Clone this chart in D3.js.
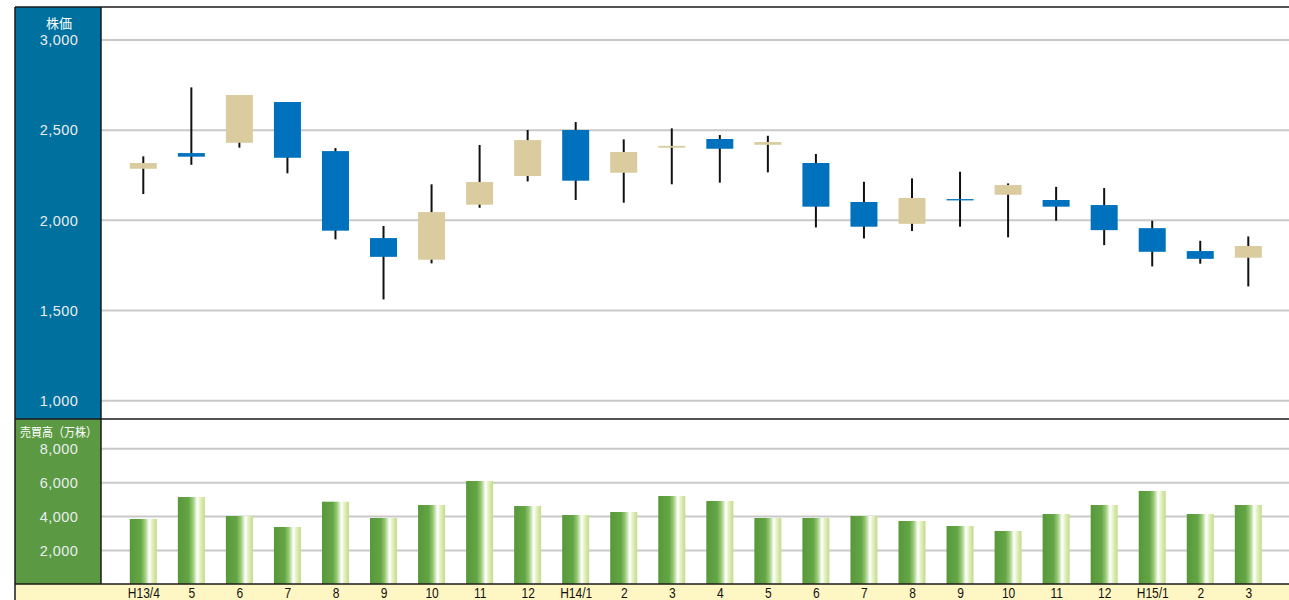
<!DOCTYPE html>
<html>
<head>
<meta charset="utf-8">
<script src="https://cdn.jsdelivr.net/npm/d3@7"></script>
<style>
  html, body { margin: 0; padding: 0; background: #ffffff; }
  svg { display: block; }
  text { font-family: "Liberation Sans", Arial, sans-serif; }
</style>
</head>
<body>
<svg id="chart" width="1289" height="600"></svg>
<script>
// Monthly stock price (OHLC) and trading volume, H13/4 – H15/3
const months = ["H13/4","5","6","7","8","9","10","11","12","H14/1","2","3",
                "4","5","6","7","8","9","10","11","12","H15/1","2","3"];
const openP  = [2283,2370,2427,2653,2381,1899,1779,2084,2243,2498,2261,2400,
                2448,2416,2315,2099,1978,2115,2139,2110,2082,1954,1827,1790];
const highP  = [2352,2734,2692,2653,2398,1966,2197,2415,2498,2542,2446,2507,
                2470,2466,2365,2211,2230,2267,2202,2183,2176,1995,1884,1908];
const lowP   = [2143,2305,2400,2258,1892,1559,1759,2067,2213,2110,2095,2197,
                2206,2263,1958,1897,1938,1962,1903,1995,1860,1742,1757,1631];
const closeP = [2315,2350,2692,2344,1940,1795,2043,2210,2442,2217,2376,2410,
                2394,2431,2073,1962,2121,2113,2193,2073,1943,1823,1784,1855];
const volume = [3829,5127,4006,3357,4850,3888,4655,6071,4596,4065,4242,5186,
                4891,3888,3888,4006,3711,3416,3121,4124,4655,5481,4124,4655];
const priceTicks  = [1000,1500,2000,2500,3000];
const volumeTicks = [2000,4000,6000,8000];
const priceTitle  = "株価";
const volumeTitle = "売買高（万株）";

const svg = d3.select("#chart");
const W = 1289;
const frameL = 15, panelR = 101, frameTop = 7, split = 419, frameBottom = 584;

const x = d3.scalePoint().domain(d3.range(months.length)).range([143.3, 1248.3]);
const yP = d3.scaleLinear().domain([1000, 3000]).range([400.3, 39.4]);
const yV = d3.scaleLinear().domain([0, 8000]).range([583.9, 448.3]);
const bodyW = 27;

// gradient for the volume bars
const defs = svg.append("defs");
const g = defs.append("linearGradient").attr("id", "volGrad")
  .attr("x1", "0").attr("x2", "1").attr("y1", "0").attr("y2", "0");
[["0%", "#57983b"], ["40%", "#64a545"], ["56%", "#9ccb78"], ["72%", "#ffffff"],
 ["84%", "#e2efbd"], ["100%", "#c2dc88"]]
  .forEach(([o, c]) => g.append("stop").attr("offset", o).attr("stop-color", c));

// backgrounds
svg.append("rect").attr("x", frameL).attr("y", frameBottom).attr("width", W - frameL).attr("height", 600 - frameBottom)
  .attr("fill", "#fff7c3");
svg.append("rect").attr("x", frameL).attr("y", frameTop).attr("width", panelR - frameL).attr("height", split - frameTop)
  .attr("fill", "#00709f");
svg.append("rect").attr("x", frameL).attr("y", split).attr("width", panelR - frameL).attr("height", frameBottom - split)
  .attr("fill", "#5b9a43");

// gridlines
const gridStyle = sel => {
  sel.select(".domain").remove();
  sel.selectAll(".tick line").attr("stroke", "#c9c9c9").attr("stroke-width", 2);
};
svg.append("g").attr("transform", `translate(${panelR},0)`)
  .call(d3.axisLeft(yP).tickValues(priceTicks).tickSize(-(W - panelR)).tickFormat(""))
  .call(gridStyle);
svg.append("g").attr("transform", `translate(${panelR},0)`)
  .call(d3.axisLeft(yV).tickValues(volumeTicks).tickSize(-(W - panelR)).tickFormat(""))
  .call(gridStyle);

// axis labels inside the coloured side panels
const labelStyle = sel => {
  sel.select(".domain").remove();
  sel.selectAll(".tick line").remove();
  sel.selectAll(".tick text").attr("x", 0).attr("dy", "0.36em").attr("text-anchor", "middle")
    .attr("fill", "#e8eef0").attr("font-size", "14.5px").style("letter-spacing", "0.4px");
};
const midX = (frameL + panelR) / 2 + 1;
svg.append("g").attr("transform", `translate(${midX},0)`)
  .call(d3.axisLeft(yP).tickValues(priceTicks).tickSize(0).tickFormat(d3.format(",")))
  .call(labelStyle);
svg.append("g").attr("transform", `translate(${midX},0)`)
  .call(d3.axisLeft(yV).tickValues(volumeTicks).tickSize(0).tickFormat(d3.format(",")))
  .call(labelStyle);

svg.append("text").attr("x", midX).attr("y", 23).attr("text-anchor", "middle").attr("dy", "0.36em")
  .attr("fill", "#ffffff").attr("font-size", "13px")
  .style("font-family", "'Noto Sans CJK JP', sans-serif").text(priceTitle);
svg.append("text").attr("x", 20).attr("y", 432).attr("dy", "0.36em")
  .attr("fill", "#ffffff").attr("font-size", "12.5px")
  .attr("textLength", 77).attr("lengthAdjust", "spacingAndGlyphs")
  .style("font-family", "'Noto Sans CJK JP', sans-serif").text(volumeTitle);

// volume bars
svg.append("g").selectAll("rect").data(volume).join("rect")
  .attr("x", (d, i) => x(i) - bodyW / 2)
  .attr("y", d => yV(d))
  .attr("width", bodyW)
  .attr("height", d => yV(0) - yV(d))
  .attr("fill", "url(#volGrad)");

// candlesticks
const candles = months.map((m, i) => ({ i, o: openP[i], h: highP[i], l: lowP[i], c: closeP[i] }));
const cg = svg.append("g");
cg.selectAll("line").data(candles).join("line")
  .attr("x1", d => x(d.i)).attr("x2", d => x(d.i))
  .attr("y1", d => yP(d.h)).attr("y2", d => yP(d.l))
  .attr("stroke", "#111111").attr("stroke-width", 2);
cg.selectAll("rect").data(candles).join("rect")
  .attr("x", d => x(d.i) - bodyW / 2)
  .attr("y", d => yP(Math.max(d.o, d.c)))
  .attr("width", bodyW)
  .attr("height", d => Math.max(1.3, Math.abs(yP(d.o) - yP(d.c))))
  .attr("fill", d => d.c > d.o ? "#dacc9e" : "#0071bd");

// month labels, horizontally condensed
const xa = svg.append("g").attr("transform", `translate(0,${frameBottom})`)
  .call(d3.axisBottom(x).tickSize(0).tickFormat(i => months[i]));
xa.select(".domain").remove();
xa.selectAll(".tick text").attr("y", 0).attr("dy", "14px").attr("fill", "#111111")
  .attr("font-size", "15px")
  .attr("transform", "scale(0.8,1)");

// frame lines
const frame = svg.append("g").attr("stroke", "#1a1a1a").attr("stroke-width", 1.5).attr("fill", "none");
frame.append("line").attr("x1", frameL).attr("x2", W).attr("y1", frameTop).attr("y2", frameTop);
frame.append("line").attr("x1", frameL).attr("x2", W).attr("y1", split).attr("y2", split);
frame.append("line").attr("x1", frameL).attr("x2", W).attr("y1", frameBottom).attr("y2", frameBottom);
frame.append("line").attr("x1", frameL).attr("x2", frameL).attr("y1", frameTop).attr("y2", 600);
frame.append("line").attr("x1", panelR).attr("x2", panelR).attr("y1", frameTop).attr("y2", frameBottom);
</script>
</body>
</html>
